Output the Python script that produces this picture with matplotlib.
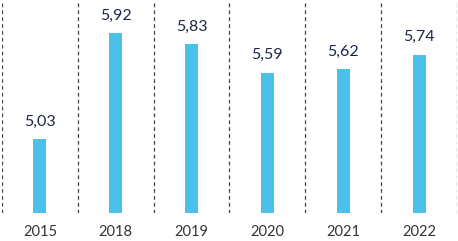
import matplotlib
matplotlib.use("Agg")
import matplotlib.pyplot as plt

years = ["2015", "2018", "2019", "2020", "2021", "2022"]
values = [5.03, 5.92, 5.83, 5.59, 5.62, 5.74]

plt.rcParams['font.family'] = ['Lato', 'DejaVu Sans']

fig = plt.figure(figsize=(4.58, 2.41), dpi=100)
ax = fig.add_axes([2 / 458, 28 / 241, 455 / 458, 213 / 241])

x = range(len(years))
ax.bar(x, values, width=0.17, color="#4bc0e8", zorder=2)

# dashed separators between the years
for i in range(len(years) + 1):
    ax.axvline(i - 0.5, color="#444444", linestyle=(0, (3, 2.5)), linewidth=0.9, zorder=1)

for xi, v in zip(x, values):
    ax.annotate(f"{v:.2f}".replace(".", ","), (xi, v), xytext=(0, 7.5), textcoords="offset points",
                ha="center", va="bottom", fontsize=11.5, color="#1c2745")

ax.set_xlim(-0.5, len(years) - 0.5)
ax.set_ylim(4.41, 6.2)
ax.set_xticks(list(x))
ax.set_xticklabels(years, fontsize=10.5, color="#333333")
ax.tick_params(axis="x", length=0, pad=9)
ax.set_yticks([])
for s in ax.spines.values():
    s.set_visible(False)

fig.savefig("out.png", dpi=100)
